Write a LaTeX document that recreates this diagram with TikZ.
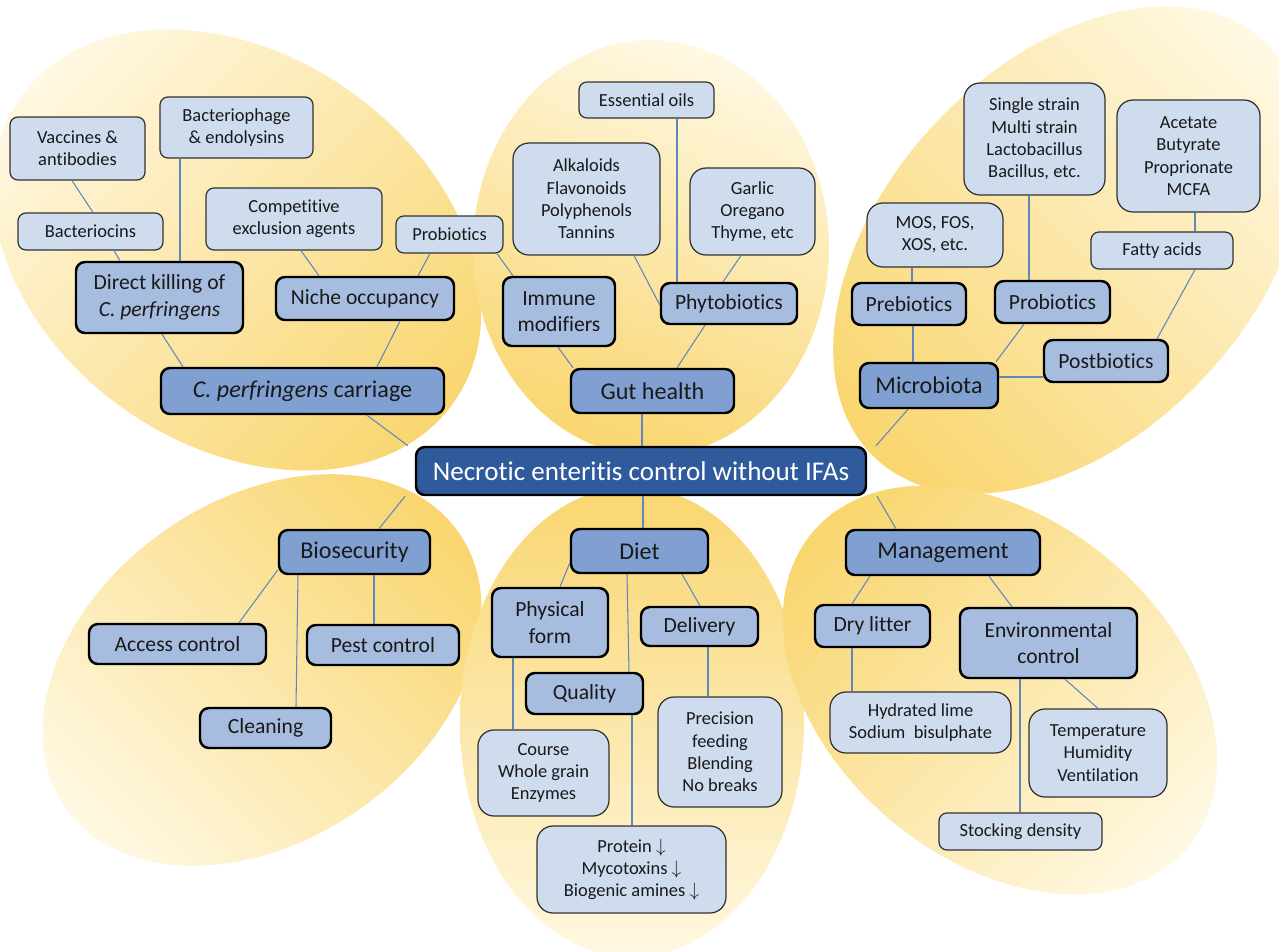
\documentclass[tikz,border=0pt]{standalone}
\usepackage{fontspec}
\setmainfont{Carlito}[Ligatures={NoCommon,NoRare,NoContextual}]
\usetikzlibrary{calc}
\definecolor{ydark}{RGB}{249,214,112}
\definecolor{ylight}{RGB}{255,248,226}
\definecolor{lightfill}{RGB}{207,220,238}
\definecolor{midfill}{RGB}{167,189,224}
\definecolor{darkfill}{RGB}{129,160,210}
\definecolor{ctrfill}{RGB}{47,91,156}
\definecolor{connc}{RGB}{95,135,190}
\definecolor{lborder}{RGB}{50,50,50}
\tikzset{
 base/.style={align=center, inner sep=1pt, text=black!90},
 light/.style={base, fill=lightfill, draw=lborder, line width=0.7pt, rounded corners=0.16cm, font=\fontsize{10.5}{12.7}\selectfont},
 lightm/.style={light, rounded corners=0.32cm},
 lvtwo/.style={base, fill=midfill, draw=black, line width=1.4pt, rounded corners=0.18cm, font=\fontsize{12.3}{15.2}\selectfont},
 lvone/.style={lvtwo, fill=darkfill, font=\fontsize{13.7}{16}\selectfont},
 ctr/.style={base, fill=ctrfill, draw=black, line width=1.4pt, rounded corners=0.18cm, text=white, font=\fontsize{15.4}{18}\selectfont},
 conn/.style={draw=connc, line width=0.6pt},
 blob/.style={top color=ylight, bottom color=ydark},
}
\newcommand{\boxnode}[7]{\node[#1, minimum width={(#4-#2)*0.02cm}, minimum height={(#5-#3)*0.02cm}] (#6) at ({(#2+#4)/2},{(#3+#5)/2}) {#7};}
\begin{document}
\begin{tikzpicture}[x=0.02cm,y=-0.02cm]
\useasboundingbox (0,0) rectangle (1279,951);
% background blobs
\begin{scope}[shift={(237,250)},rotate=-35]
 \shade[blob, shading angle=45] (0,0) ellipse (265 and 195);
\end{scope}
\begin{scope}[shift={(651,248)}]
 \shade[blob, shading angle=-20] (0,0) ellipse (178 and 208);
\end{scope}
\begin{scope}[shift={(1070,250)},rotate=47]
 \shade[blob, shading angle=-45] (0,0) ellipse (285 and 185);
\end{scope}
\begin{scope}[shift={(262,670)},rotate=35]
 \shade[blob, shading angle=135] (0,0) ellipse (240 and 170);
\end{scope}
\begin{scope}[shift={(632,722)}]
 \shade[blob, shading angle=180] (0,0) ellipse (172 and 235);
\end{scope}
\begin{scope}[shift={(1000,690)},rotate=-40]
 \shade[blob, shading angle=-135] (0,0) ellipse (245 and 170);
\end{scope}
% centre
\boxnode{ctr}{416}{447}{866}{495}{ne}{Necrotic enteritis control without IFAs}
% top-left
\boxnode{light}{10}{117}{145}{180}{vac}{Vaccines \&\\antibodies}
\boxnode{light}{160}{97}{313}{158}{phage}{Bacteriophage\\\& endolysins}
\boxnode{light}{18}{213}{163}{250}{bcin}{Bacteriocins}
\boxnode{light}{206}{188}{382}{250}{comp}{Competitive\\exclusion agents}
\boxnode{light}{396}{216}{503}{253}{probA}{Probiotics}
\boxnode{lvtwo}{76}{262}{243}{333}{kill}{Direct killing of\\\textit{C. perfringens}}
\boxnode{lvtwo}{276}{277}{454}{320}{niche}{Niche occupancy}
\boxnode{lvone}{161}{368}{444}{414}{carr}{\textit{C. perfringens} carriage}
% top-middle
\boxnode{light}{579}{82}{714}{118}{eo}{Essential oils}
\boxnode{lightm}{513}{143}{660}{255}{alk}{Alkaloids\\Flavonoids\\Polyphenols\\Tannins}
\boxnode{lightm}{690}{168}{815}{255}{garl}{Garlic\\Oregano\\Thyme, etc}
\boxnode{lvtwo}{503}{277}{615}{346}{imm}{Immune\\modifiers}
\boxnode{lvtwo}{661}{283}{797}{324}{phyto}{Phytobiotics}
\boxnode{lvone}{571}{369}{734}{413}{gut}{Gut health}
% top-right
\boxnode{lightm}{964}{83}{1105}{195}{strain}{Single strain\\Multi strain\\Lactobacillus\\Bacillus, etc.}
\boxnode{lightm}{1117}{100}{1260}{212}{acet}{Acetate\\Butyrate\\Proprionate\\MCFA}
\boxnode{lightm}{867}{203}{1003}{267}{mos}{MOS, FOS,\\XOS, etc.}
\boxnode{light}{1091}{232}{1233}{269}{fatty}{Fatty acids}
\boxnode{lvtwo}{852}{283}{966}{325}{preb}{Prebiotics}
\boxnode{lvtwo}{995}{281}{1110}{323}{probB}{Probiotics}
\boxnode{lvtwo}{1044}{340}{1168}{382}{postb}{Postbiotics}
\boxnode{lvone}{860}{363}{998}{408}{micro}{Microbiota}
% bottom-left
\boxnode{lvone}{279}{530}{430}{574}{bio}{Biosecurity}
\boxnode{lvtwo}{89}{624}{266}{664}{acc}{Access control}
\boxnode{lvtwo}{307}{625}{459}{665}{pest}{Pest control}
\boxnode{lvtwo}{200}{708}{331}{748}{clean}{Cleaning}
% bottom-middle
\boxnode{lvone}{571}{529}{708}{573}{diet}{Diet}
\boxnode{lvtwo}{492}{588}{608}{657}{phys}{Physical\\form}
\boxnode{lvtwo}{641}{607}{758}{646}{deliv}{Delivery}
\boxnode{lvtwo}{526}{673}{643}{714}{qual}{Quality}
\boxnode{lightm}{478}{730}{609}{816}{course}{Course\\Whole grain\\Enzymes}
\boxnode{lightm}{658}{697}{782}{807}{prec}{Precision\\feeding\\Blending\\No breaks}
\boxnode{lightm}{537}{826}{726}{913}{prot}{Protein $\downarrow$\\Mycotoxins $\downarrow$\\Biogenic amines $\downarrow$}
% bottom-right
\boxnode{lvone}{846}{530}{1040}{575}{mgmt}{Management}
\boxnode{lvtwo}{815}{605}{930}{647}{dry}{Dry litter}
\boxnode{lvtwo}{960}{608}{1137}{678}{env}{Environmental\\control}
\boxnode{lightm}{830}{692}{1011}{753}{lime}{Hydrated lime\\Sodium\ \ bisulphate}
\boxnode{lightm}{1029}{709}{1167}{797}{temp}{Temperature\\Humidity\\Ventilation}
\boxnode{light}{939}{813}{1102}{850}{stock}{Stocking density}
% connectors top-left
\draw[conn] (vac.south -| 72,0) -- (bcin.north -| 93,0);
\draw[conn] (bcin.south -| 114,0) -- (kill.north -| 120,0);
\draw[conn] (phage.south -| 180,0) -- (kill.north -| 180,0);
\draw[conn] (kill.south -| 162,0) -- (carr.north -| 183,0);
\draw[conn] (comp.south -| 301,0) -- (niche.north -| 319,0);
\draw[conn] (probA.south -| 430,0) -- (niche.north -| 418,0);
\draw[conn] (niche.south -| 400,0) -- (carr.north -| 377,0);
\draw[conn] (carr.south -| 367,0) -- (ne.north -| 408,0);
% top-middle
\draw[conn] (eo.south -| 677,0) -- (phyto.north -| 677,0);
\draw[conn] (alk.south -| 634,0) -- (phyto.west |- 0,305);
\draw[conn] (garl.south -| 741,0) -- (phyto.north -| 723,0);
\draw[conn] (probA.south -| 497,0) -- (imm.north -| 513,0);
\draw[conn] (imm.south -| 558,0) -- (gut.north -| 573,0);
\draw[conn] (phyto.south -| 705,0) -- (gut.north -| 677,0);
\draw[conn] (gut.south -| 642,0) -- (ne.north -| 642,0);
% top-right
\draw[conn] (mos.south -| 912,0) -- (preb.north -| 912,0);
\draw[conn] (strain.south -| 1029,0) -- (probB.north -| 1029,0);
\draw[conn] (acet.south -| 1195,0) -- (fatty.north -| 1195,0);
\draw[conn] (fatty.south -| 1195,0) -- (postb.north -| 1157,0);
\draw[conn] (preb.south -| 913,0) -- (micro.north -| 913,0);
\draw[conn] (probB.south -| 1024,0) -- (micro.north -| 996,0);
\draw[conn] (micro.east |- 0,377) -- (postb.west |- 0,377);
\draw[conn] (micro.south -| 908,0) -- (ne.north -| 876,0);
% bottom-left
\draw[conn] (ne.south -| 405,0) -- (bio.north -| 379,0);
\draw[conn] (bio.west |- 0,570) -- (acc.north -| 239,0);
\draw[conn] (bio.south -| 298,0) -- (clean.north -| 296,0);
\draw[conn] (bio.south -| 374,0) -- (pest.north -| 374,0);
% bottom-middle
\draw[conn] (ne.south -| 643,0) -- (diet.north -| 643,0);
\draw[conn] (diet.west |- 0,563) -- (phys.north -| 560,0);
\draw[conn] (diet.south -| 627,0) -- (qual.north -| 629,0);
\draw[conn] (diet.south -| 682,0) -- (deliv.north -| 700,0);
\draw[conn] (phys.south -| 513,0) -- (course.north -| 513,0);
\draw[conn] (deliv.south -| 708,0) -- (prec.north -| 708,0);
\draw[conn] (qual.south -| 632,0) -- (prot.north -| 632,0);
% bottom-right
\draw[conn] (ne.south -| 877,0) -- (mgmt.north -| 896,0);
\draw[conn] (mgmt.south -| 870,0) -- (dry.north -| 852,0);
\draw[conn] (mgmt.south -| 989,0) -- (env.north -| 1012,0);
\draw[conn] (dry.south -| 852,0) -- (lime.north -| 852,0);
\draw[conn] (env.south -| 1065,0) -- (temp.north -| 1098,0);
\draw[conn] (env.south -| 1020,0) -- (stock.north -| 1020,0);
\end{tikzpicture}
\end{document}
